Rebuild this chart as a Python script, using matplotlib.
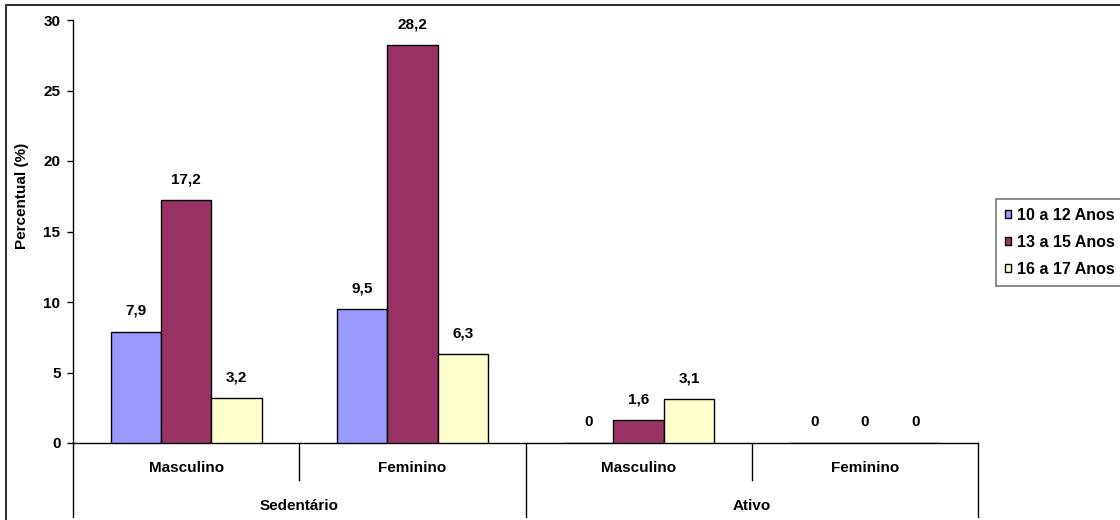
import matplotlib.pyplot as plt
from matplotlib.patches import Rectangle
from matplotlib.transforms import blended_transform_factory

plt.rcParams['font.family'] = ['Liberation Sans', 'DejaVu Sans']
plt.rcParams['font.weight'] = 'bold'

GROUPS = ['Sedentário', 'Ativo']
SEXES = ['Masculino', 'Feminino', 'Masculino', 'Feminino']
AGE_BANDS = ['10 a 12 Anos', '13 a 15 Anos', '16 a 17 Anos']
AGE_10_12 = [7.9, 9.5, 0, 0]
AGE_13_15 = [17.2, 28.2, 1.6, 0]
AGE_16_17 = [3.2, 6.3, 3.1, 0]
Y_TICKS = [0, 5, 10, 15, 20, 25, 30]

COLORS = ['#9999FF', '#993366', '#FFFFCC']
BAR_W = 1 / 4.5


def fmt(v):
    if v == 0:
        return '0'
    return f'{v:.1f}'.replace('.', ',')


def plot():
    fig = plt.figure(figsize=(11.2, 5.2), dpi=100)
    ax = fig.add_axes([73 / 1120, 1 - 443 / 520, (978 - 73) / 1120, 423 / 520])

    series = [AGE_10_12, AGE_13_15, AGE_16_17]
    xs = range(len(SEXES))
    for i, (vals, color, label) in enumerate(zip(series, COLORS, AGE_BANDS)):
        pos = [x + (i - 1) * BAR_W for x in xs]
        ax.bar(pos, vals, BAR_W, color=color, edgecolor='black',
               linewidth=1, label=label, zorder=3)
        for p, v in zip(pos, vals):
            ax.annotate(fmt(v), (p, v), xytext=(0, 15), textcoords='offset points',
                        ha='center', va='center', fontsize=11, fontweight='bold')

    ax.set_xlim(-0.5, len(SEXES) - 0.5)
    ax.set_ylim(0, 30)
    ax.set_yticks(Y_TICKS)
    ax.set_yticklabels([str(t) for t in Y_TICKS], fontsize=11, fontweight='bold')
    ax.tick_params(axis='y', length=4, width=1, pad=5)
    ax.set_xticks([])
    for s in ['top', 'right']:
        ax.spines[s].set_visible(False)
    ax.spines['left'].set_linewidth(1)
    ax.spines['bottom'].set_linewidth(1)
    fig.text(22 / 1120, 1 - 196 / 520, 'Percentual (%)', rotation=90,
             ha='center', va='center', fontsize=11, fontweight='bold')

    # two-level category axis below the plot
    trans = blended_transform_factory(ax.transData, ax.transAxes)
    low = -74 / 423
    for x in [-0.5, 1.5, 3.5]:
        ax.plot([x, x], [0, low], transform=trans, color='black', lw=1, clip_on=False)
    for x in [0.5, 2.5]:
        ax.plot([x, x], [0, -37 / 423], transform=trans, color='black', lw=1, clip_on=False)
    for x, name in zip(xs, SEXES):
        ax.text(x, -25 / 423, name, transform=trans, ha='center', va='center',
                fontsize=11, fontweight='bold')
    for j, name in enumerate(GROUPS):
        ax.text(2 * j + 0.5, -63 / 423, name, transform=trans, ha='center',
                va='center', fontsize=11, fontweight='bold')

    leg = fig.legend(loc='upper left', bbox_to_anchor=(996 / 1120, 1 - 199 / 520),
                     fontsize=11.5, frameon=True, fancybox=False, handlelength=0.42,
                     handleheight=0.42, handletextpad=0.35, labelspacing=0.75,
                     borderpad=0.55, borderaxespad=0)
    leg.get_frame().set_edgecolor('#555555')
    leg.get_frame().set_linewidth(1.2)

    # outer chart border
    fig.patches.append(Rectangle((6 / 1120, -0.1), 1.2, 1 - 5 / 520 + 0.1,
                                 transform=fig.transFigure, fill=False,
                                 edgecolor='#333333', linewidth=1.5))

    fig.savefig('out.png', dpi=100)
    plt.close(fig)


if __name__ == '__main__':
    plot()
